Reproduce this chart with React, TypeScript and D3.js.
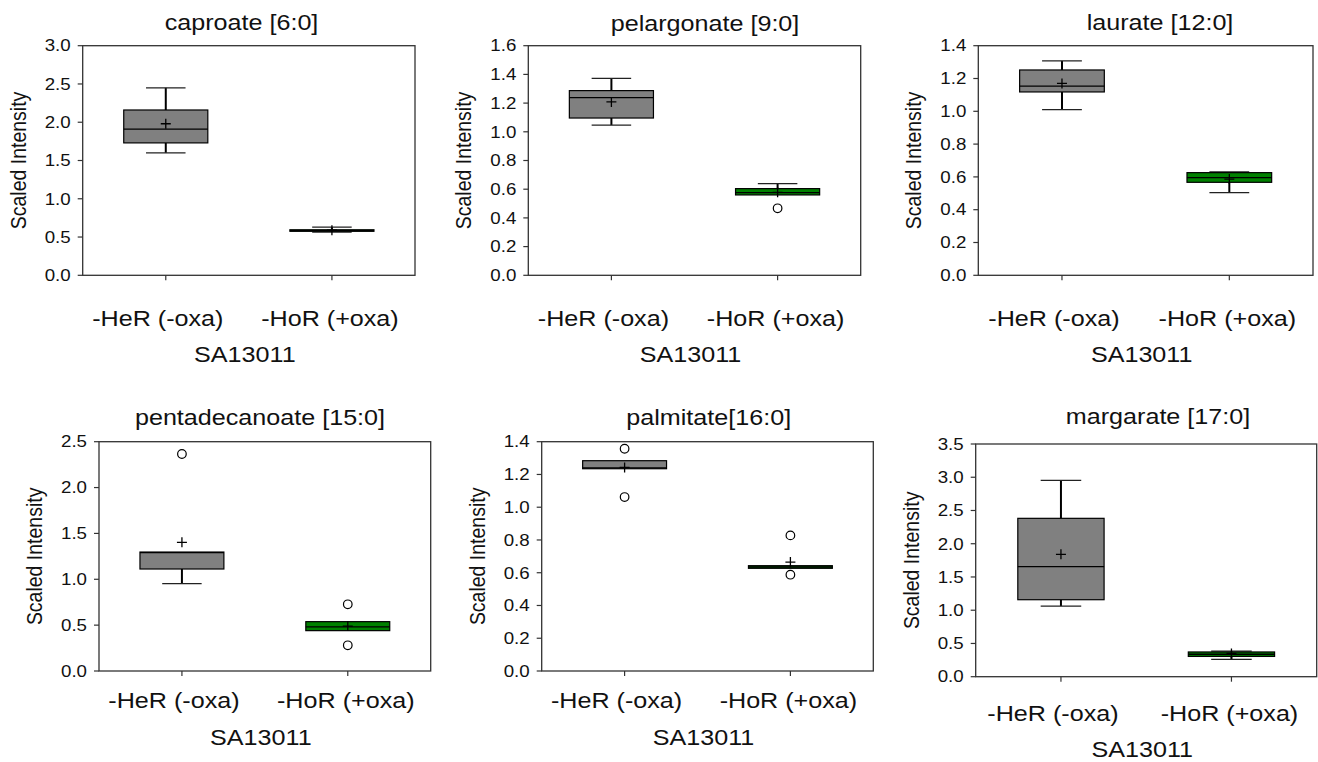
import React from "react";
import * as d3 from "d3";

// panel titles, in reading order
const titles = [
  "caproate [6:0]",
  "pelargonate [9:0]",
  "laurate [12:0]",
  "pentadecanoate [15:0]",
  "palmitate[16:0]",
  "margarate [17:0]",
];
const categories = ["-HeR (-oxa)", "-HoR (+oxa)"];
const groupLabel = "SA13011";
const yLabel = "Scaled Intensity";
const yMax = [3.0, 1.6, 1.4, 2.5, 1.4, 3.5];
const yStep = [0.5, 0.2, 0.2, 0.5, 0.2, 0.5];

// -HeR (-oxa) box stats per panel
const herWhiskerLow = [1.6, 1.047, 1.01, 0.952, 1.235, 1.063];
const herQ1 = [1.73, 1.096, 1.118, 1.112, 1.235, 1.158];
const herMedian = [1.91, 1.238, 1.154, 1.29, 1.24, 1.655];
const herQ3 = [2.16, 1.287, 1.252, 1.297, 1.284, 2.382];
const herWhiskerHigh = [2.45, 1.372, 1.307, 1.297, 1.284, 2.954];
const herMean = [1.98, 1.208, 1.17, 1.403, 1.243, 1.84];
const herOutliers = [[], [], [], [2.366], [1.357, 1.062], []];

// -HoR (+oxa) box stats per panel
const horWhiskerLow = [0.565, 0.56, 0.504, 0.44, 0.627, 0.26];
const horQ1 = [0.575, 0.56, 0.567, 0.44, 0.627, 0.305];
const horMedian = [0.585, 0.576, 0.595, 0.48, 0.635, 0.338];
const horQ3 = [0.595, 0.604, 0.626, 0.538, 0.643, 0.372];
const horWhiskerHigh = [0.63, 0.639, 0.63, 0.538, 0.643, 0.385];
const horMean = [0.59, 0.578, 0.587, 0.49, 0.665, 0.35];
const horOutliers = [[], [0.467], [], [0.727, 0.28], [0.828, 0.588], []];

const fills = ["#808080", "#008000"];

// plot frames as they sit in the figure
const layout = [
  { left: 82.7, top: 45.7, w: 332.3, h: 229.6, tx: 241.5, ty: 29.5, cy: 326, gy: 361.5 },
  { left: 528.3, top: 45.7, w: 332.4, h: 229.6, tx: 705, ty: 31, cy: 326, gy: 361.5 },
  { left: 978.3, top: 45.7, w: 334.7, h: 229.6, tx: 1160, ty: 30, cy: 326, gy: 361.5 },
  { left: 99, top: 441.7, w: 331.7, h: 229.3, tx: 260, ty: 425, cy: 708.3, gy: 745 },
  { left: 541.7, top: 441.7, w: 331.6, h: 229.3, tx: 708.7, ty: 425, cy: 708.3, gy: 745 },
  { left: 975.7, top: 444, w: 341, h: 232.7, tx: 1158, ty: 423.5, cy: 720.5, gy: 757 },
];
const catLabelDx = [-8, -2];

const FONT = "'Liberation Sans', Arial, sans-serif";
const STRETCH = 1.17; // the source figure is a bit wider than tall

const SText = ({ x, y, size, anchor = "middle", rotate = 0, sx = STRETCH, dy = 0, children }: any) => (
  <text
    transform={`translate(${x},${y}) scale(${sx},1)${rotate ? ` rotate(${rotate})` : ""}`}
    fontFamily={FONT}
    fontSize={size}
    textAnchor={anchor}
    dy={dy}
    fill="#111"
  >
    {children}
  </text>
);

const Box = ({ cx, bw, y, lo, q1, med, q3, hi, mean, outliers, fill }: any) => {
  const capW = bw * 0.47;
  return (
    <g>
      {hi > q3 && (
        <>
          <line x1={cx} x2={cx} y1={y(q3)} y2={y(hi)} stroke="#000" strokeWidth={2} />
          <line x1={cx - capW / 2} x2={cx + capW / 2} y1={y(hi)} y2={y(hi)} stroke="#222" strokeWidth={1.3} />
        </>
      )}
      {lo < q1 && (
        <>
          <line x1={cx} x2={cx} y1={y(q1)} y2={y(lo)} stroke="#000" strokeWidth={2} />
          <line x1={cx - capW / 2} x2={cx + capW / 2} y1={y(lo)} y2={y(lo)} stroke="#222" strokeWidth={1.3} />
        </>
      )}
      <rect
        x={cx - bw / 2}
        y={y(q3)}
        width={bw}
        height={Math.max(y(q1) - y(q3), 1)}
        fill={fill}
        stroke="#000"
        strokeWidth={1.2}
      />
      <line x1={cx - bw / 2} x2={cx + bw / 2} y1={y(med)} y2={y(med)} stroke="#000" strokeWidth={1.3} />
      <path
        d={`M${cx - 5},${y(mean)}H${cx + 5}M${cx},${y(mean) - 5}V${y(mean) + 5}`}
        stroke="#000"
        strokeWidth={1.3}
      />
      {outliers.map((v: number, i: number) => (
        <circle key={i} cx={cx} cy={y(v)} r={4.3} fill="#fff" stroke="#000" strokeWidth={1.2} />
      ))}
    </g>
  );
};

const Panel = ({ i }: { i: number }) => {
  const L = layout[i];
  const y = d3.scaleLinear().domain([0, yMax[i]]).range([L.top + L.h, L.top]);
  const x = d3.scalePoint<string>().domain(categories).range([L.left, L.left + L.w]).padding(0.5);
  const ticks = d3.range(0, yMax[i] + yStep[i] / 2, yStep[i]);
  const bw = L.w * 0.253;
  const bottom = L.top + L.h;

  return (
    <g>
      <SText x={L.tx} y={L.ty} size={21.5}>{titles[i]}</SText>
      <rect x={L.left} y={L.top} width={L.w} height={L.h} fill="none" stroke="#333" strokeWidth={1.3} />
      {ticks.map((t) => (
        <g key={t}>
          <line x1={L.left - 5} x2={L.left} y1={y(t)} y2={y(t)} stroke="#333" strokeWidth={1.2} />
          <SText x={L.left - 12} y={y(t)} size={16} anchor="end" dy="0.36em">
            {d3.format(".1f")(t)}
          </SText>
        </g>
      ))}
      {categories.map((c, k) => (
        <g key={c}>
          <line x1={x(c)} x2={x(c)} y1={bottom} y2={bottom + 5} stroke="#333" strokeWidth={1.2} />
          <SText x={(x(c) as number) + catLabelDx[k]} y={L.cy} size={21.5}>{c}</SText>
        </g>
      ))}
      <SText x={L.left - 4 + L.w / 2} y={L.gy} size={21.5}>{groupLabel}</SText>
      <SText x={L.left - 57} y={L.top + L.h / 2} size={19.5} rotate={-90} sx={1.12}>{yLabel}</SText>

      <Box
        cx={x(categories[0])}
        bw={bw}
        y={y}
        lo={herWhiskerLow[i]}
        q1={herQ1[i]}
        med={herMedian[i]}
        q3={herQ3[i]}
        hi={herWhiskerHigh[i]}
        mean={herMean[i]}
        outliers={herOutliers[i]}
        fill={fills[0]}
      />
      <Box
        cx={x(categories[1])}
        bw={bw}
        y={y}
        lo={horWhiskerLow[i]}
        q1={horQ1[i]}
        med={horMedian[i]}
        q3={horQ3[i]}
        hi={horWhiskerHigh[i]}
        mean={horMean[i]}
        outliers={horOutliers[i]}
        fill={fills[1]}
      />
    </g>
  );
};

export default function App() {
  return (
    <svg
      width={1318}
      height={762}
      style={{ position: "absolute", left: 0, top: 0, background: "#fff" }}
    >
      {titles.map((_, i) => (
        <Panel key={i} i={i} />
      ))}
    </svg>
  );
}
